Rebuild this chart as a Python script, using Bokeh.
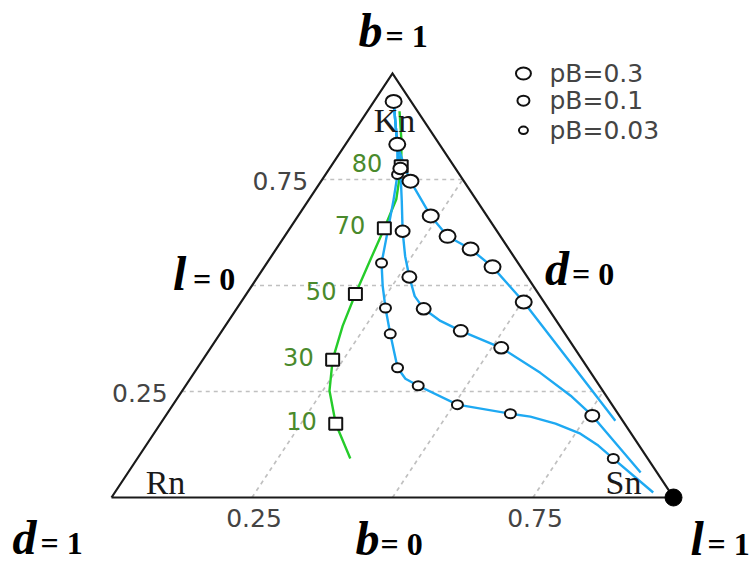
from bokeh.plotting import figure
from bokeh.models import Range1d
from bokeh.core.properties import value
from bokeh.embed import file_html
from bokeh.resources import INLINE

# ---------------- data (ternary fractions: b = top, l = right, d = 1 - b - l) -------------
# pB = 0.3
A_line_b = [0.934, 0.833, 0.786, 0.746, 0.664, 0.616, 0.586, 0.544, 0.461, 0.318, 0.181]
A_line_l = [0.035, 0.092, 0.127, 0.159, 0.236, 0.290, 0.346, 0.406, 0.503, 0.658, 0.806]
A_pts_b = [0.934, 0.833, 0.746, 0.664, 0.616, 0.586, 0.544, 0.461]
A_pts_l = [0.035, 0.092, 0.159, 0.236, 0.290, 0.346, 0.406, 0.503]
# pB = 0.1
B_line_b = [0.934, 0.833, 0.776, 0.699, 0.628, 0.569, 0.520, 0.475, 0.445, 0.4165, 0.393,
            0.353, 0.294, 0.240, 0.193, 0.059]
B_line_l = [0.035, 0.092, 0.126, 0.167, 0.204, 0.238, 0.270, 0.302, 0.333, 0.377, 0.425,
            0.517, 0.616, 0.697, 0.759, 0.912]
B_pts_b = [0.776, 0.628, 0.520, 0.445, 0.393, 0.353, 0.193]
B_pts_l = [0.126, 0.204, 0.270, 0.333, 0.425, 0.517, 0.759]
# pB = 0.03
C_line_b = [0.934, 0.833, 0.762, 0.699, 0.6235, 0.553, 0.499, 0.447, 0.386, 0.306, 0.280,
            0.2635, 0.219, 0.1976, 0.1906, 0.1741, 0.1506, 0.1224, 0.0918, 0.0118]
C_line_l = [0.035, 0.092, 0.128, 0.152, 0.179, 0.204, 0.233, 0.264, 0.303, 0.356, 0.383,
            0.414, 0.506, 0.611, 0.650, 0.703, 0.759, 0.805, 0.847, 0.958]
C_pts_b = [0.762, 0.553, 0.447, 0.386, 0.306, 0.2635, 0.219, 0.1976, 0.0918]
C_pts_l = [0.128, 0.204, 0.264, 0.303, 0.356, 0.414, 0.506, 0.611, 0.847]
# green path with labelled squares
G_line_b = [0.911, 0.840, 0.781, 0.7035, 0.635, 0.5624, 0.480, 0.4047, 0.325, 0.2518, 0.174, 0.0918]
G_line_l = [0.057, 0.096, 0.125, 0.155, 0.168, 0.180, 0.194, 0.209, 0.231, 0.262, 0.312, 0.379]
G_labels = ["80", "70", "50", "30", "10"]
G_pts_b = [0.781, 0.635, 0.480, 0.325, 0.174]
G_pts_l = [0.125, 0.168, 0.194, 0.231, 0.312]

grid_vals = [0.25, 0.5, 0.75]
tick_vals = [0.25, 0.75]
tick_labels = ["0.25", "0.75"]
legend_labels = ["pB=0.3", "pB=0.1", "pB=0.03"]


def tern(b, l):
    """(b, l) -> cartesian (x, y) with Rn at (0,0), Sn at (1,0), Kn at (0.5,1)."""
    xs = [li + bi / 2.0 for bi, li in zip(b, l)]
    ys = list(b)
    return xs, ys


W, H = 752, 565
p = figure(width=W, height=H, output_backend="svg", toolbar_location=None,
           x_axis_type=None, y_axis_type=None, min_border=0,
           x_range=Range1d(-0.197509, 1.140569), y_range=Range1d(-0.160377, 1.172170))
p.outline_line_color = None
p.background_fill_color = "white"
p.border_fill_color = "white"

GRID = "#c0c0c0"
# horizontal grid (constant b), from left edge to right edge
for g in grid_vals:
    x0, y0 = tern([g], [0.0])
    x1, y1 = tern([g], [1 - g])
    p.line([x0[0], x1[0]], [y0[0], y1[0]], line_color=GRID, line_width=1.7, line_dash="4 4")
# diagonal grid (constant l), from bottom edge to right edge
for g in grid_vals:
    x0, y0 = tern([0.0], [g])
    x1, y1 = tern([1 - g], [g])
    p.line([x0[0], x1[0]], [y0[0], y1[0]], line_color=GRID, line_width=1.7, line_dash="4 4")

# triangle
tx, ty = tern([0, 0, 1, 0], [0, 1, 0, 0])
p.line(tx, ty, line_color="#1a1a1a", line_width=2.2, line_join="miter")

# curves
BLUE = "#1ea9f2"
GREEN = "#25cc2a"
gx, gy = tern(G_line_b, G_line_l)
p.line(gx, gy, line_color=GREEN, line_width=2.4, line_join="round")
for lb, ll in [(C_line_b, C_line_l), (B_line_b, B_line_l), (A_line_b, A_line_l)]:
    x, y = tern(lb, ll)
    p.line(x, y, line_color=BLUE, line_width=2.4, line_join="round")

# markers
sqx, sqy = tern(G_pts_b, G_pts_l)
p.rect(sqx, sqy, width=13, height=12, width_units="screen", height_units="screen",
       fill_color="white", line_color="#111111", line_width=2)
for pb, pl, w, h in [(C_pts_b, C_pts_l, 11, 9), (B_pts_b, B_pts_l, 14, 11.5), (A_pts_b, A_pts_l, 16, 13)]:
    x, y = tern(pb, pl)
    p.ellipse(x, y, width=w, height=h, width_units="screen", height_units="screen",
              fill_color="white", line_color="#111111", line_width=2)

# vertex dot at Sn
vx, vy = tern([0.0], [1.0])
p.scatter(vx, vy, size=17, marker="circle", fill_color="black", line_color="black")

SANS = value("DejaVu Sans")
SERIF = value("Liberation Serif")

# green labels
p.text(sqx, sqy, text=G_labels, text_font=SANS, text_font_size="24px", text_color="#4a8a2c",
       text_align="right", text_baseline="middle", x_offset=-19, y_offset=-3)

# tick labels: left edge (b values), bottom edge (l values)
lx, ly = tern(tick_vals, [0.0, 0.0])
p.text(lx, ly, text=tick_labels, text_font=SANS, text_font_size="25px", text_color="#444444",
       text_align="right", text_baseline="middle", x_offset=-14, y_offset=1)
bx, by = tern([0.0, 0.0], tick_vals)
p.text(bx, by, text=tick_labels, text_font=SANS, text_font_size="25px", text_color="#444444",
       text_align="center", text_baseline="top", x_offset=2, y_offset=11)

# vertex names
vnx, vny = tern([1.0, 0.0, 0.0], [0.0, 0.0, 1.0])
p.text(vnx, vny, text=["Kn", "Rn", "Sn"], text_font=SERIF, text_font_size="34px",
       text_color="#1a1a1a", text_align="center", text_baseline="alphabetic",
       x_offset=[2, 54, -50], y_offset=[47, -15, -15])

# axis labels: letter (bold italic) + "= v" (bold)
ax, ay = tern([1.0, 0.0, 0.0, 0.5, 0.5, 0.0], [0.0, 0.0, 1.0, 0.0, 0.5, 0.5])
letters = ["b", "d", "l", "l", "d", "b"]
rest = ["= 1", "= 1", "= 1", "= 0", "= 0", "= 0"]
ldx = [-34, -99, 17, -79, 12, -37]
rdx = [-7, -71, 34, -59, 39, -12]
ldy = [-43, 40, 41, -12, -17, 41]
rdy = [-38, 45, 46, -7, -12, 46]
p.text(ax, ay, text=letters, text_font=SERIF, text_font_size="48px", text_font_style="bold italic",
       text_color="black", text_align="left", text_baseline="alphabetic", x_offset=ldx, y_offset=ldy)
p.text(ax, ay, text=rest, text_font=SERIF, text_font_size="32px", text_font_style="bold",
       text_color="black", text_align="left", text_baseline="alphabetic", x_offset=rdx, y_offset=rdy)

# legend
leg_x = [0.733, 0.733, 0.733]
leg_y = [1.0, 0.936, 0.866]
p.ellipse(leg_x, leg_y, width=[15, 12, 9], height=[12, 10, 7.5], width_units="screen",
          height_units="screen", fill_color="white", line_color="#111111", line_width=2)
p.text(leg_x, leg_y, text=legend_labels, text_font=SANS, text_font_size="25px",
       text_color="#444444", text_align="left", text_baseline="middle", x_offset=26, y_offset=0)

open("out.html", "w").write(file_html(p, INLINE))
